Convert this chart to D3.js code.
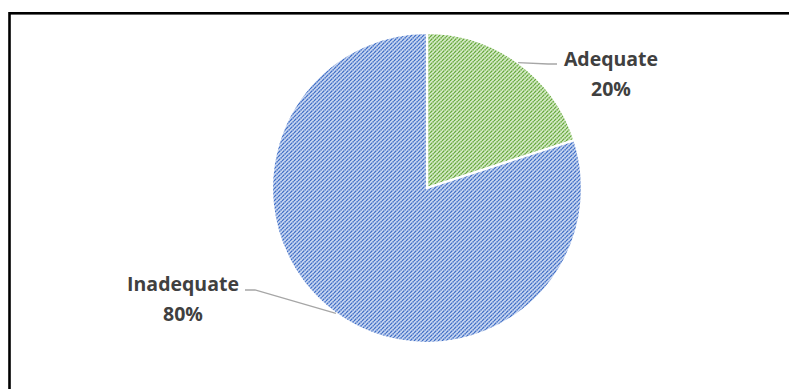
<!DOCTYPE html>
<html>
<head>
<meta charset="utf-8">
<script src="https://cdn.jsdelivr.net/npm/d3@7"></script>
<style>
  body { margin: 0; background: #fff; }
  svg { display: block; }
</style>
</head>
<body>
<svg width="789" height="389"></svg>
<script>
// chart data
const categories = ["Adequate", "Inadequate"];
const values = [20, 80];
const percentLabels = ["20%", "80%"];

const svg = d3.select("svg");
const width = +svg.attr("width");
const height = +svg.attr("height");

// outer frame (runs off the right and bottom edge)
svg.append("rect")
  .attr("x", 9.5)
  .attr("y", 13.3)
  .attr("width", width + 20)
  .attr("height", height + 20)
  .attr("fill", "none")
  .attr("stroke", "#000")
  .attr("stroke-width", 2.6);

// hatch patterns like the excel fills
const fills = {
  Adequate: { bg: "#d9edcb", fg: "#66a83c" },
  Inadequate: { bg: "#cddaf2", fg: "#3f6ec6" }
};
const defs = svg.append("defs");
categories.forEach((c) => {
  const p = defs.append("pattern")
    .attr("id", "hatch-" + c)
    .attr("patternUnits", "userSpaceOnUse")
    .attr("width", 4)
    .attr("height", 4);
  p.append("rect").attr("width", 4).attr("height", 4).attr("fill", fills[c].bg);
  p.append("path")
    .attr("d", "M-1,1 l2,-2 M0,4 l4,-4 M3,5 l2,-2")
    .attr("stroke", fills[c].fg)
    .attr("stroke-width", 1.4)
    .attr("stroke-dasharray", "1.6,0.6");
});

const cx = 427, cy = 188, radius = 155;

const pie = d3.pie().sort(null).value((d) => d.value);
const arc = d3.arc().innerRadius(0).outerRadius(radius);

const data = categories.map((c, i) => ({ name: c, value: values[i], label: percentLabels[i] }));
const arcs = pie(data);

const g = svg.append("g").attr("transform", `translate(${cx},${cy})`);

g.selectAll("path.slice")
  .data(arcs)
  .join("path")
  .attr("class", "slice")
  .attr("d", arc)
  .attr("fill", (d) => `url(#hatch-${d.data.name})`)
  .attr("stroke", "#fff")
  .attr("stroke-width", 2.2);

// label positions (relative to pie centre) and leader elbow
const labelPos = {
  Adequate: { x: 184, y: -122, elbow: [121, -124], end: [130, -124] },
  Inadequate: { x: -244, y: 103, elbow: [-172, 102], end: [-182, 102] }
};

const edgePoint = (d) => {
  const a = (d.startAngle + d.endAngle) / 2;
  return [Math.sin(a) * radius, -Math.cos(a) * radius];
};

g.selectAll("polyline.leader")
  .data(arcs)
  .join("polyline")
  .attr("class", "leader")
  .attr("points", (d) => {
    const lp = labelPos[d.data.name];
    return [edgePoint(d), lp.elbow, lp.end].map((p) => p.join(",")).join(" ");
  })
  .attr("fill", "none")
  .attr("stroke", "#a6a6a6")
  .attr("stroke-width", 1.3);

const labels = g.selectAll("text.label")
  .data(arcs)
  .join("text")
  .attr("class", "label")
  .attr("text-anchor", "middle")
  .attr("font-family", "'Open Sans', sans-serif")
  .attr("font-weight", "bold")
  .attr("font-size", 19.5)
  .attr("fill", "#404040");

labels.append("tspan")
  .attr("x", (d) => labelPos[d.data.name].x)
  .attr("y", (d) => labelPos[d.data.name].y)
  .text((d) => d.data.name);

labels.append("tspan")
  .attr("x", (d) => labelPos[d.data.name].x)
  .attr("y", (d) => labelPos[d.data.name].y + 30)
  .text((d) => d.data.label);
</script>
</body>
</html>
